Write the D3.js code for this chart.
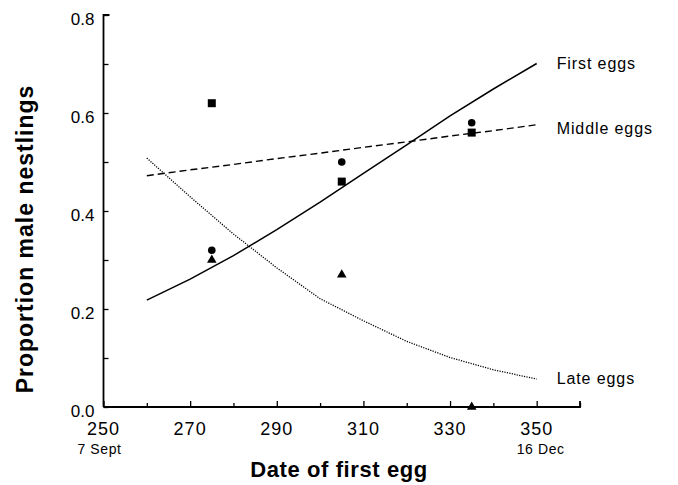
<!DOCTYPE html>
<html>
<head>
<meta charset="utf-8">
<script src="https://cdn.jsdelivr.net/npm/d3@7"></script>
<style>
  body { margin: 0; background: #fff; }
  text { font-family: "Liberation Sans", Arial, sans-serif; fill: #000; }
</style>
</head>
<body>
<div id="chart"></div>
<script>
// ============
// Data
// ============
var curveDays = [260, 270, 280, 290, 300, 310, 320, 330, 340, 350];
var firstEggs = [0.218, 0.261, 0.309, 0.362, 0.418, 0.477, 0.535, 0.594, 0.649, 0.701];
var middleEggs = [0.472, 0.484, 0.495, 0.507, 0.518, 0.530, 0.541, 0.553, 0.564, 0.576];
var lateEggs = [0.508, 0.429, 0.353, 0.284, 0.221, 0.176, 0.134, 0.101, 0.076, 0.057];

var pointDays = [275, 305, 335];
var circleVals = [0.32, 0.50, 0.58];
var squareVals = [0.62, 0.46, 0.56];
var triangleVals = [0.30, 0.27, 0.00];

var xTicks = [250, 270, 290, 310, 330, 350];
var yTicks = [0.0, 0.2, 0.4, 0.6, 0.8];
var dateNotes = [{ day: 250, text: "7 Sept", shift: -4 }, { day: 350, text: "16 Dec", shift: 4 }];

// ============
// Set up of the svg
// ============
var svgWidth = 678;
var svgHeight = 485;

var svg = d3.select("#chart")
  .append("svg")
  .attr("width", svgWidth)
  .attr("height", svgHeight);

var xScale = d3.scaleLinear().domain([250, 360]).range([103.5, 580]);
var yScale = d3.scaleLinear().domain([0, 0.8]).range([407, 15]);

// axes (ticks point inwards)
var xAxis = svg.append("g")
  .attr("transform", `translate(0, ${yScale(0)})`)
  .call(d3.axisBottom(xScale).tickValues(d3.range(250, 361, 10)).tickSize(-6).tickFormat(""));
xAxis.selectAll(".tick line").attr("y2", d => (d - 250) % 20 === 0 ? -6 : -4);

var yAxis = svg.append("g")
  .attr("transform", `translate(${xScale(250)}, 0)`)
  .call(d3.axisLeft(yScale).tickValues(d3.range(0, 0.81, 0.1)).tickSize(-5).tickFormat(""));

svg.selectAll(".domain").attr("stroke", "#000").attr("stroke-width", 1.8);
svg.selectAll(".tick line").attr("stroke", "#000").attr("stroke-width", 1.3);
// keep only the axis lines and the small end ticks
xAxis.select(".domain").attr("d", `M${xScale(250)},0H${xScale(360)}V-6`);
yAxis.select(".domain").attr("d", `M0,${yScale(0)}V${yScale(0.8)}H6`);

// tick labels
svg.selectAll(".xlab")
  .data(xTicks)
  .enter()
  .append("text")
  .attr("x", d => xScale(d))
  .attr("y", yScale(0) + 28)
  .attr("text-anchor", "middle")
  .style("font-size", "18px")
  .style("letter-spacing", "1px")
  .text(d => d);

svg.selectAll(".note")
  .data(dateNotes)
  .enter()
  .append("text")
  .attr("x", d => xScale(d.day) + d.shift)
  .attr("y", yScale(0) + 47)
  .attr("text-anchor", "middle")
  .style("font-size", "14px")
  .style("letter-spacing", "0.6px")
  .text(d => d.text);

svg.selectAll(".ylab")
  .data(yTicks)
  .enter()
  .append("text")
  .attr("x", xScale(250) - 9)
  .attr("y", d => yScale(d) + 10)
  .attr("text-anchor", "end")
  .style("font-size", "17px")
  .text(d => d.toFixed(1));

// axis titles
svg.append("text")
  .attr("x", 339)
  .attr("y", 477)
  .attr("text-anchor", "middle")
  .style("font-size", "22px")
  .style("font-weight", "bold")
  .style("letter-spacing", "0.6px")
  .text("Date of first egg");

svg.append("text")
  .attr("transform", "translate(33, 239) rotate(-90)")
  .attr("text-anchor", "middle")
  .style("font-size", "23px")
  .style("font-weight", "bold")
  .style("letter-spacing", "1px")
  .text("Proportion male nestlings");

// ============
// Fitted curves
// ============
var line = d3.line()
  .x(d => xScale(d[0]))
  .y(d => yScale(d[1]));

var curves = [
  { vals: firstEggs, dash: null, width: 1.5, label: "First eggs", dy: 5 },
  { vals: middleEggs, dash: "7,4", width: 1.4, label: "Middle eggs", dy: 9 },
  { vals: lateEggs, dash: "1.2,1.3", width: 1.3, label: "Late eggs", dy: 5 }
];

curves.forEach(function(c) {
  svg.append("path")
    .datum(curveDays.map((d, i) => [d, c.vals[i]]))
    .attr("d", line)
    .attr("fill", "none")
    .attr("stroke", "#000")
    .attr("stroke-width", c.width)
    .attr("stroke-dasharray", c.dash);

  svg.append("text")
    .attr("x", xScale(350) + 20)
    .attr("y", yScale(c.vals[c.vals.length - 1]) + c.dy)
    .style("font-size", "16px")
    .style("letter-spacing", "0.9px")
    .text(c.label);
});

// ============
// Observed points
// ============
svg.selectAll(".circ")
  .data(pointDays)
  .enter()
  .append("circle")
  .attr("cx", d => xScale(d))
  .attr("cy", (d, i) => yScale(circleVals[i]))
  .attr("r", 3.8)
  .attr("fill", "#000");

svg.selectAll(".sq")
  .data(pointDays)
  .enter()
  .append("path")
  .attr("transform", (d, i) => `translate(${xScale(d)}, ${yScale(squareVals[i])})`)
  .attr("d", d3.symbol(d3.symbolSquare, 64))
  .attr("fill", "#000");

svg.selectAll(".tri")
  .data(pointDays)
  .enter()
  .append("path")
  .attr("transform", (d, i) => `translate(${xScale(d)}, ${yScale(triangleVals[i])})`)
  .attr("d", d3.symbol(d3.symbolTriangle, 40))
  .attr("fill", "#000");
</script>
</body>
</html>
